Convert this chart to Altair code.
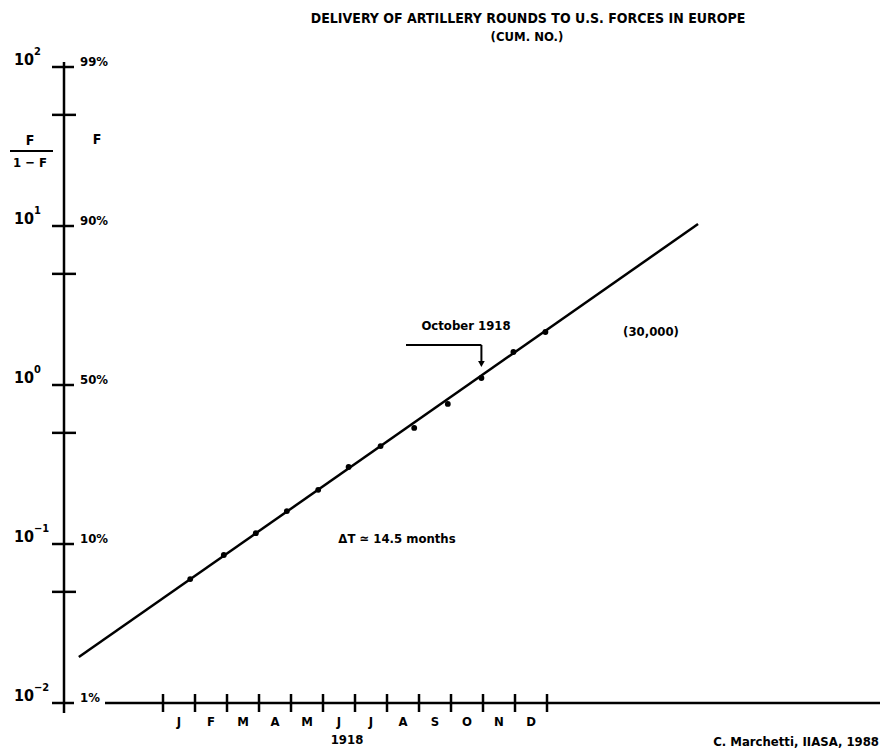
import altair as alt
import pandas as pd

# Cumulative deliveries per month, plotted as F/(1-F); month = months since 1 Jan 1918
obs_month = [0.85, 1.9, 2.9, 3.87, 4.85, 5.8, 6.8, 7.85, 8.9, 9.95, 10.95, 11.95]
obs_ratio = [0.0602, 0.0853, 0.117, 0.161, 0.219, 0.305, 0.413, 0.537, 0.760, 1.107, 1.613, 2.154]

# Fitted logistic (straight line in Fisher-Pry coordinates)
fit_month = [-2.63, 16.72]
fit_ratio = [0.01945, 10.29]

month_labels = ["J", "F", "M", "A", "M", "J", "J", "A", "S", "O", "N", "D"]
month_edges = list(range(13))

decade_ratio = [0.01, 0.1, 1, 10, 100]
decade_exp = ["\u22122", "\u22121", "0", "1", "2"]
decade_pct = ["1%", "10%", "50%", "90%", "99%"]
half_ratio = [0.05, 0.5, 5, 50]

W, H = 816, 636
FONT = "Liberation Sans Narrow, DejaVu Sans Condensed, Liberation Sans, sans-serif"
INK = "#000000"

x_scale = alt.Scale(domain=[-3.094, 22.406], nice=False, zero=False)
y_scale = alt.Scale(type="log", domain=[0.01, 100], nice=False)


def X(field):
    return alt.X(field, type="quantitative", scale=x_scale, axis=None)


def Y(field):
    return alt.Y(field, type="quantitative", scale=y_scale, axis=None)


obs = pd.DataFrame({"month": obs_month, "ratio": obs_ratio})
fit = pd.DataFrame({"month": fit_month, "ratio": fit_ratio})
decades = pd.DataFrame({"ratio": decade_ratio, "exp": decade_exp, "pct": decade_pct})
halves = pd.DataFrame({"ratio": half_ratio})
edges = pd.DataFrame({"month": month_edges})
months = pd.DataFrame({"mid": [m + 0.5 for m in range(12)], "label": month_labels})
floor = pd.DataFrame({"ratio": [decade_ratio[0]]})
one = pd.DataFrame({"k": [0]})


def label(text, x, y, size=13, align="center", weight="bold"):
    return alt.Chart(one).mark_text(
        align=align, baseline="middle", font=FONT, fontSize=size,
        fontWeight=weight, color=INK
    ).encode(x=alt.value(x), y=alt.value(y), text=alt.value(text))


def seg(x, x2, y, y2, width=2.5):
    return alt.Chart(one).mark_rule(color=INK, strokeWidth=width).encode(
        x=alt.value(x), x2=alt.value(x2), y=alt.value(y), y2=alt.value(y2)
    )


# vertical axis with crossing ticks
y_axis = seg(0, 0, -5, 646)
decade_ticks = alt.Chart(decades).mark_rule(color=INK, strokeWidth=2.5).encode(
    y=Y("ratio"), x=alt.value(-12), x2=alt.value(10)
)
half_ticks = alt.Chart(halves).mark_rule(color=INK, strokeWidth=2.5).encode(
    y=Y("ratio"), x=alt.value(-12), x2=alt.value(12)
)
ten_text = alt.Chart(decades).mark_text(
    align="left", baseline="middle", dy=-7, font=FONT, fontSize=16,
    fontWeight="bold", color=INK
).encode(y=Y("ratio"), x=alt.value(-50), text=alt.value("10"))
exp_text = alt.Chart(decades).mark_text(
    align="left", baseline="middle", dy=-15, font=FONT, fontSize=11,
    fontWeight="bold", color=INK
).encode(y=Y("ratio"), x=alt.value(-30), text="exp:N")
pct_text = alt.Chart(decades).mark_text(
    align="left", baseline="middle", dy=-5, font=FONT, fontSize=13,
    fontWeight="bold", color=INK
).encode(y=Y("ratio"), x=alt.value(16), text="pct:N")

# horizontal time axis
x_axis = alt.Chart(floor).mark_rule(color=INK, strokeWidth=2.5).encode(
    y=Y("ratio"), x=alt.value(41), x2=alt.value(W)
)
edge_ticks = alt.Chart(edges).mark_rule(color=INK, strokeWidth=2.5).encode(
    x=X("month"), y=alt.value(627), y2=alt.value(645)
)
month_text = alt.Chart(months).mark_text(
    baseline="middle", font=FONT, fontSize=13, fontWeight="bold", color=INK
).encode(x=X("mid"), y=alt.value(655), text="label:N")

# fitted line and observations
fit_line = alt.Chart(fit).mark_line(color=INK, strokeWidth=2.5).encode(
    x=X("month"), y=Y("ratio")
)
points = alt.Chart(obs).mark_circle(color=INK, size=34, opacity=1).encode(
    x=X("month"), y=Y("ratio")
)

# October 1918 marker
oct_df = obs.iloc[[9]]
oct_flag = alt.Chart(oct_df).mark_rule(color=INK, strokeWidth=2).encode(
    x=X("month"), x2=alt.value(342), y=alt.value(278)
)
oct_stem = alt.Chart(oct_df).mark_rule(color=INK, strokeWidth=2).encode(
    x=X("month"), y=alt.value(278), y2=alt.value(296)
)
oct_head = alt.Chart(oct_df).mark_point(
    shape="triangle-down", filled=True, color=INK, opacity=1, size=45
).encode(x=X("month"), y=alt.value(297))

layers = [
    y_axis, decade_ticks, half_ticks, ten_text, exp_text, pct_text,
    x_axis, edge_ticks, month_text,
    fit_line, points, oct_flag, oct_stem, oct_head,
    label("DELIVERY OF ARTILLERY ROUNDS TO U.S. FORCES IN EUROPE", 464, -48, 14),
    label("(CUM. NO.)", 463, -30, 13),
    label("F", -34, 74, 14),
    seg(-54, -11, 84, 84, 2),
    label("1 \u2212 F", -34, 96, 13),
    label("F", 33, 73, 14),
    label("October 1918", 402, 259, 13),
    label("(30,000)", 587, 265, 13),
    label("\u0394T \u2243 14.5 months", 333, 472, 13),
    label("1918", 283, 673, 13),
    label("C. Marchetti, IIASA, 1988", 815, 675, 13, align="right"),
]

chart = alt.layer(*layers).properties(
    width=W,
    height=H,
    padding={"left": 64, "top": 67, "right": 0, "bottom": 49},
    autosize=alt.AutoSizeParams(type="none"),
    background="white",
).configure_view(strokeWidth=0)

chart.save("out.html", embed_options={"renderer": "svg", "actions": False})
